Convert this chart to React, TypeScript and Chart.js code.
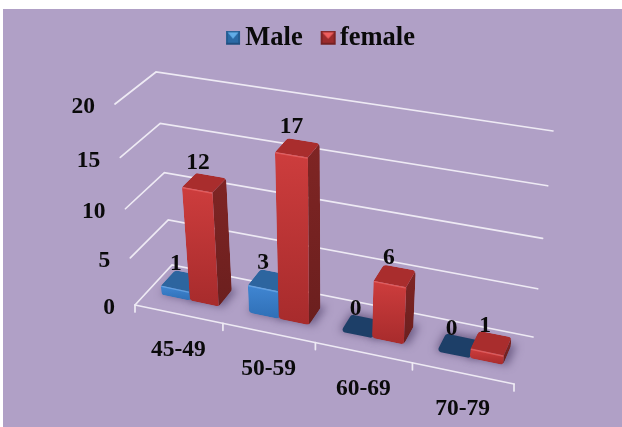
import React, { useEffect, useRef } from "react";
import { Chart, registerables } from "chart.js";

Chart.register(...registerables);

const categories = ["45-49", "50-59", "60-69", "70-79"];
const maleValues = [1, 3, 0, 0];
const femaleValues = [12, 17, 6, 1];
const seriesNames = ["Male", "female"];

const W = 622;
const H = 427;
const SERIF = "'Liberation Serif', 'Times New Roman', serif";
const INK = "#0a0a0a";
const BG = "#b0a0c6";
const GRID = "#eeeaf4";

type Pt = [number, number];

// Perspective frame of the 3D box: t along categories, d into depth, v in value units
const FRAME = {
  A: [135, 305] as Pt,
  B: [514, 384] as Pt,
  C: [172, 265] as Pt,
  D: [533, 337] as Pt,
  A2: [115, 104] as Pt,
  B2: [536, 170] as Pt,
  C2: [156, 72] as Pt,
  D2: [553, 131] as Pt,
};

const lerp = (a: number, b: number, k: number) => a + (b - a) * k;
const lerpPt = (a: Pt, b: Pt, k: number): Pt => [lerp(a[0], b[0], k), lerp(a[1], b[1], k)];

function project(t: number, d: number, v: number, vMax: number): Pt {
  const tp = 0.904 * t + 0.096 * t * t;
  const u = v / vMax;
  const s = 0.9154 * u + 0.0846 * u * u;
  const f0 = lerpPt(FRAME.A, FRAME.B, tp);
  const b0 = lerpPt(FRAME.C, FRAME.D, tp);
  const f1 = lerpPt(FRAME.A2, FRAME.B2, tp);
  const b1 = lerpPt(FRAME.C2, FRAME.D2, tp);
  return lerpPt(lerpPt(f0, b0, d), lerpPt(f1, b1, d), s);
}

function roundedPoly(ctx: CanvasRenderingContext2D, pts: Pt[], r: number) {
  const n = pts.length;
  ctx.beginPath();
  const start = lerpPt(pts[n - 1], pts[0], 0.5);
  ctx.moveTo(start[0], start[1]);
  for (let i = 0; i < n; i++) {
    const p = pts[i];
    const q = pts[(i + 1) % n];
    const o = pts[(i + n - 1) % n];
    const len = Math.min(Math.hypot(p[0] - q[0], p[1] - q[1]), Math.hypot(p[0] - o[0], p[1] - o[1]));
    ctx.arcTo(p[0], p[1], q[0], q[1], Math.min(r, len / 2.2));
  }
  ctx.closePath();
}

function poly(ctx: CanvasRenderingContext2D, pts: Pt[]) {
  ctx.beginPath();
  pts.forEach((p, i) => (i ? ctx.lineTo(p[0], p[1]) : ctx.moveTo(p[0], p[1])));
  ctx.closePath();
}

const D0 = 0.33;
const D1 = 0.72;
const BEVEL = 0.98;

const PALETTE = [
  { frontA: "#4086d2", frontB: "#2f6fb6", top: "#2d659f", sideA: "#265a8c", sideB: "#1f4a74", flat: "#1d3f68", edge: "rgba(120,180,240,0.6)" },
  { frontA: "#cd3d3d", frontB: "#a72b2c", top: "#a92d2d", sideA: "#7f2524", sideB: "#6b1f1e", flat: "#a92d2d", edge: "rgba(240,110,110,0.6)" },
];

function drawBar(ctx: CanvasRenderingContext2D, t0: number, t1: number, value: number, vMax: number, pal: (typeof PALETTE)[number]) {
  const P = (t: number, d: number, val: number) => project(t, d, val, vMax);
  const v = value * BEVEL;
  if (v > 0) {
    const outline = [P(t0, D0, v), P(t0, D1, v), P(t1, D1, v), P(t1, D1, 0), P(t1, D0, 0), P(t0, D0, 0)];
    ctx.save();
    roundedPoly(ctx, outline, 5);
    ctx.clip();
    const side = [P(t1, D0, v), P(t1, D1, v), P(t1, D1, 0), P(t1, D0, 0)];
    const sideGrad = ctx.createLinearGradient(0, side[1][1], 0, side[3][1]);
    sideGrad.addColorStop(0, pal.sideA);
    sideGrad.addColorStop(1, pal.sideB);
    poly(ctx, side);
    ctx.fillStyle = sideGrad;
    ctx.fill();
    const top = [P(t0, D0, v), P(t0, D1, v), P(t1, D1, v), P(t1, D0, v)];
    poly(ctx, top);
    ctx.fillStyle = pal.top;
    ctx.fill();
    const front = [P(t0, D0, v), P(t1, D0, v), P(t1, D0, 0), P(t0, D0, 0)];
    const grad = ctx.createLinearGradient(0, Math.min(front[0][1], front[1][1]), 0, Math.max(front[2][1], front[3][1]));
    grad.addColorStop(0, pal.frontA);
    grad.addColorStop(1, pal.frontB);
    poly(ctx, front);
    ctx.fillStyle = grad;
    ctx.fill();
    ctx.beginPath();
    ctx.moveTo(front[0][0] + 1, front[0][1] + 0.6);
    ctx.lineTo(front[1][0] - 1, front[1][1] + 0.6);
    ctx.strokeStyle = pal.edge;
    ctx.lineWidth = 1.4;
    ctx.stroke();
    ctx.restore();
  } else {
    const flat = [P(t0, D0, 0), P(t0, D1, 0), P(t1, D1, 0), P(t1, D0, 0)];
    roundedPoly(ctx, flat, 3);
    ctx.fillStyle = pal.flat;
    ctx.fill();
  }
}

const box3d = {
  id: "box3d",
  beforeDatasetsDraw(chart: any) {
    const ctx: CanvasRenderingContext2D = chart.ctx;
    const xs = chart.scales.x;
    const ys = chart.scales.y;
    const vMax = ys.max;
    ctx.save();
    ctx.lineCap = "round";
    ctx.strokeStyle = GRID;
    ctx.lineWidth = 1.7;

    // floor front edge with category ticks
    const fl = project(0, 0, 0, vMax);
    const fr = project(1, 0, 0, vMax);
    ctx.beginPath();
    ctx.moveTo(fl[0], fl[1]);
    ctx.lineTo(fr[0], fr[1]);
    ctx.stroke();
    const n = categories.length;
    for (let i = 0; i <= n; i++) {
      const p = project(i / n, 0, 0, vMax);
      ctx.beginPath();
      ctx.moveTo(p[0], p[1]);
      ctx.lineTo(p[0], p[1] + 7);
      ctx.stroke();
    }
    // value gridlines: side wall + back wall
    ys.ticks.forEach((tk: any) => {
      const a = project(0, 0, tk.value, vMax);
      const b = project(0, 1, tk.value, vMax);
      const c = project(1, 1, tk.value, vMax);
      ctx.beginPath();
      ctx.moveTo(a[0], a[1]);
      ctx.lineTo(b[0], b[1]);
      ctx.lineTo(c[0], c[1]);
      ctx.stroke();
      ctx.fillStyle = INK;
      ctx.font = `bold 23.5px ${SERIF}`;
      ctx.textAlign = "right";
      ctx.textBaseline = "middle";
      ctx.fillText(String(tk.value), a[0] - 20, a[1] + 3);
    });
    // category labels
    ctx.font = `bold 23.5px ${SERIF}`;
    ctx.textAlign = "center";
    ctx.textBaseline = "middle";
    ctx.fillStyle = INK;
    categories.forEach((_c, i) => {
      const px = xs.getPixelForValue(i);
      const t = (px - xs.left) / xs.width;
      const p = project(t, 0, 0, vMax);
      ctx.fillText(xs.getLabelForValue(i), p[0], p[1] + 36);
    });

    // bars, read from the chart's own bar elements
    const bars: { t0: number; t1: number; v: number; ds: number; idx: number }[] = [];
    chart.data.datasets.forEach((ds: any, di: number) => {
      chart.getDatasetMeta(di).data.forEach((el: any, i: number) => {
        bars.push({
          t0: (el.x - el.width / 2 - xs.left) / xs.width,
          t1: (el.x + el.width / 2 - xs.left) / xs.width,
          v: ys.getValueForPixel(el.y),
          ds: di,
          idx: i,
        });
      });
    });
    // shadows
    ctx.save();
    ctx.filter = "blur(4px)";
    ctx.fillStyle = "rgba(72,56,98,0.62)";
    bars.forEach((b) => {
      const s = [project(b.t0 - 0.004, D0 + 0.01, 0, vMax), project(b.t0 - 0.004, D1 + 0.05, 0, vMax), project(b.t1 + 0.012, D1 + 0.05, 0, vMax), project(b.t1 + 0.012, D0 + 0.01, 0, vMax)];
      poly(ctx, s);
      ctx.fill();
    });
    ctx.restore();
    bars.forEach((b) => drawBar(ctx, b.t0, b.t1, b.v, vMax, PALETTE[b.ds]));
    // data labels
    ctx.font = `bold 23.5px ${SERIF}`;
    ctx.textAlign = "center";
    ctx.textBaseline = "middle";
    ctx.fillStyle = INK;
    bars.forEach((b) => {
      const p = project((b.t0 + b.t1) / 2, (D0 + D1) / 2, b.v, vMax);
      const val = Math.round(b.v);
      ctx.fillText(String(val), p[0] - 6, p[1] - 17);
    });
    ctx.restore();
  },
};

const backdrop = {
  id: "backdrop",
  beforeDraw(chart: any) {
    const ctx = chart.ctx;
    ctx.save();
    ctx.fillStyle = "#ffffff";
    ctx.fillRect(0, 0, W, H);
    ctx.fillStyle = BG;
    ctx.fillRect(3, 9, W - 3, H - 9);
    ctx.restore();
  },
};

function marker(light: string, mid: string, dark: string, edge: string, size: number) {
  const c = document.createElement("canvas");
  c.width = 31;
  c.height = 15;
  const g = c.getContext("2d")!;
  const x = 10;
  g.fillStyle = edge;
  g.fillRect(x, 0, size, 14);
  g.fillStyle = mid;
  g.fillRect(x + 2, 2, size - 4, 10);
  g.fillStyle = light;
  g.beginPath();
  g.moveTo(x + 1.5, 1.5);
  g.lineTo(x + size - 1.5, 1.5);
  g.lineTo(x + size / 2, 8);
  g.closePath();
  g.fill();
  g.fillStyle = dark;
  g.fillRect(x, 12, size, 2);
  return c;
}

export default function App() {
  const ref = useRef<HTMLCanvasElement | null>(null);
  useEffect(() => {
    if (!ref.current) return;
    const markers = [marker("#62ade8", "#2b6aa6", "#1f4f80", "#245c92", 14), marker("#ee5f5f", "#9c2b2c", "#742021", "#7f2425", 15)];
    const chart = new Chart(ref.current, {
      type: "bar",
      data: {
        labels: categories,
        datasets: [
          { label: seriesNames[0], data: maleValues, backgroundColor: "rgba(0,0,0,0)", categoryPercentage: 0.66, barPercentage: 1 },
          { label: seriesNames[1], data: femaleValues, backgroundColor: "rgba(0,0,0,0)", categoryPercentage: 0.66, barPercentage: 1 },
        ],
      },
      options: {
        responsive: false,
        animation: false,
        layout: { padding: { top: 2, left: 24 } },
        scales: {
          x: { display: false },
          y: { display: false, min: 0, max: 20, ticks: { stepSize: 5 } },
        },
        plugins: {
          tooltip: { enabled: false },
          legend: {
            display: true,
            position: "top",
            labels: {
              usePointStyle: true,
              pointStyleWidth: 1,
              padding: 23,
              color: INK,
              font: { family: SERIF, weight: "bold", size: 26.5, lineHeight: 1 },
              generateLabels: (c: any) =>
                c.data.datasets.map((ds: any, i: number) => ({
                  text: ds.label,
                  pointStyle: markers[i],
                  datasetIndex: i,
                  fontColor: INK,
                  lineWidth: 0,
                  strokeStyle: "rgba(0,0,0,0)",
                  fillStyle: "rgba(0,0,0,0)",
                })),
            },
          },
        },
      },
      plugins: [backdrop, box3d],
    } as any);
    return () => chart.destroy();
  }, []);
  return (
    <div style={{ position: "fixed", left: 0, top: 0, width: W, height: H }}>
      <canvas ref={ref} width={W} height={H} style={{ display: "block" }} />
    </div>
  );
}
